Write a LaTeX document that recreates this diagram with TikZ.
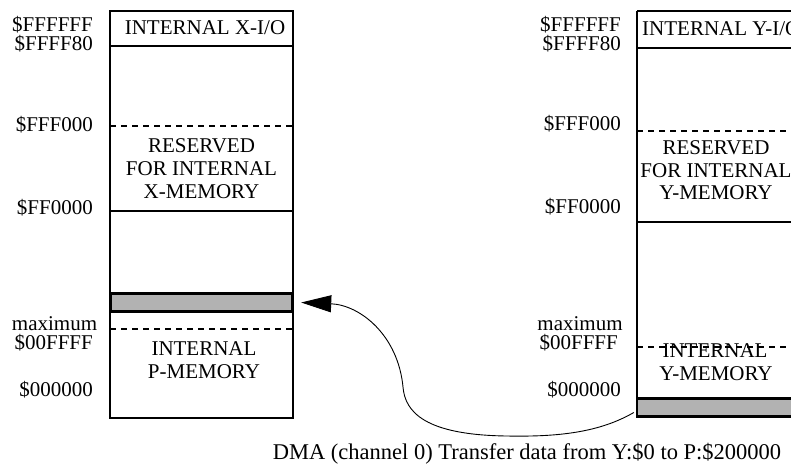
\documentclass[tikz,border=0pt]{standalone}
\usepackage{fontspec}
\setmainfont{Liberation Serif}
\usetikzlibrary{arrows.meta}

\begin{document}
\begin{tikzpicture}[x=1pt,y=-1pt,
  txt/.style={inner sep=0pt,anchor=base,font=\fontsize{21}{24}\selectfont},
  lbl/.style={inner sep=0pt,anchor=base east,font=\fontsize{21}{24}\selectfont},
  frame/.style={line width=1.6pt},
  rule/.style={line width=1.2pt},
  dashrule/.style={line width=1.2pt,dash pattern=on 6pt off 5pt},
  bar/.style={draw,line width=2.4pt,fill=barGray,inner sep=0pt},
  dma/.style={line width=0.9pt,-{Triangle[length=30pt,width=17pt]}}]
\definecolor{barGray}{RGB}{178,178,178}
\useasboundingbox (0,0) rectangle (791,463);

% ---------- X data memory map ----------
\draw[frame] (110,11) rectangle (293,418);
\draw[rule] (110,46) -- (293,46);
\draw[dashrule] (110,126) -- (293,126);
\draw[rule] (110,211) -- (293,211);
\draw[dashrule] (110,329) -- (293,329);
\node[bar,minimum width=181pt,minimum height=18pt] (xbar) at (201.5,302.5) {};

\node[txt] (xio) at (205,34) {INTERNAL X-I/O};
\node[txt] (xres1) at (201.5,152) {RESERVED};
\node[txt] (xres2) at (201.5,175) {FOR INTERNAL};
\node[txt] (xres3) at (201.5,198) {X-MEMORY};
\node[txt] (xint1) at (204,355) {INTERNAL};
\node[txt] (xint2) at (204,378) {P-MEMORY};

\node[lbl] (xa1) at (93,31) {\$FFFFFF};
\node[lbl] (xa2) at (93,50) {\$FFFF80};
\node[lbl] (xa3) at (93,131) {\$FFF000};
\node[lbl] (xa4) at (93,214) {\$FF0000};
\node[lbl,anchor=base] (xa5) at (54.5,330) {maximum};
\node[lbl] (xa6) at (93,349) {\$00FFFF};
\node[lbl] (xa7) at (93,396) {\$000000};

% ---------- Y data memory map ----------
\draw[frame] (637,11) -- (797,11);
\draw[frame] (637,11) -- (637,417);
\draw[rule] (637,48) -- (797,48);
\draw[dashrule] (637,131) -- (797,131);
\draw[rule] (637,222) -- (797,222);
\draw[dashrule] (637,347) -- (797,347);
\node[bar,minimum width=162pt,minimum height=18pt] (ybar) at (718,407.5) {};

\node[txt,anchor=base west] (yio) at (642,35) {INTERNAL Y-I/O};
\node[txt] (yres1) at (716,154) {RESERVED};
\node[txt] (yres2) at (716,177) {FOR INTERNAL};
\node[txt] (yres3) at (716,199) {Y-MEMORY};
\node[txt] (yint1) at (715,357) {INTERNAL};
\node[txt] (yint2) at (716,380) {Y-MEMORY};

\node[lbl] (ya1) at (621,31) {\$FFFFFF};
\node[lbl] (ya2) at (621,50) {\$FFFF80};
\node[lbl] (ya3) at (621,130) {\$FFF000};
\node[lbl] (ya4) at (621,213) {\$FF0000};
\node[lbl,anchor=base] (ya5) at (580,330) {maximum};
\node[lbl] (ya6) at (618,349) {\$00FFFF};
\node[lbl] (ya7) at (621,396) {\$000000};

% ---------- DMA transfer ----------
\coordinate (dmaTail) at ([xshift=-2pt,yshift=-5pt]ybar.west);
\coordinate (dmaHead) at ([xshift=8pt]xbar.east);
\draw[dma] (dmaTail)
  .. controls (600,432) and (560,437) .. (507,436)
  .. controls (425,435) and (405,412) .. (403,387)
  .. controls (398,335) and (360,305) .. (dmaHead);

\node[txt,font=\fontsize{22.5}{24}\selectfont] (cap) at (527,459)
  {DMA (channel 0) Transfer data from Y:\$0 to P:\$200000};
\end{tikzpicture}
\end{document}
